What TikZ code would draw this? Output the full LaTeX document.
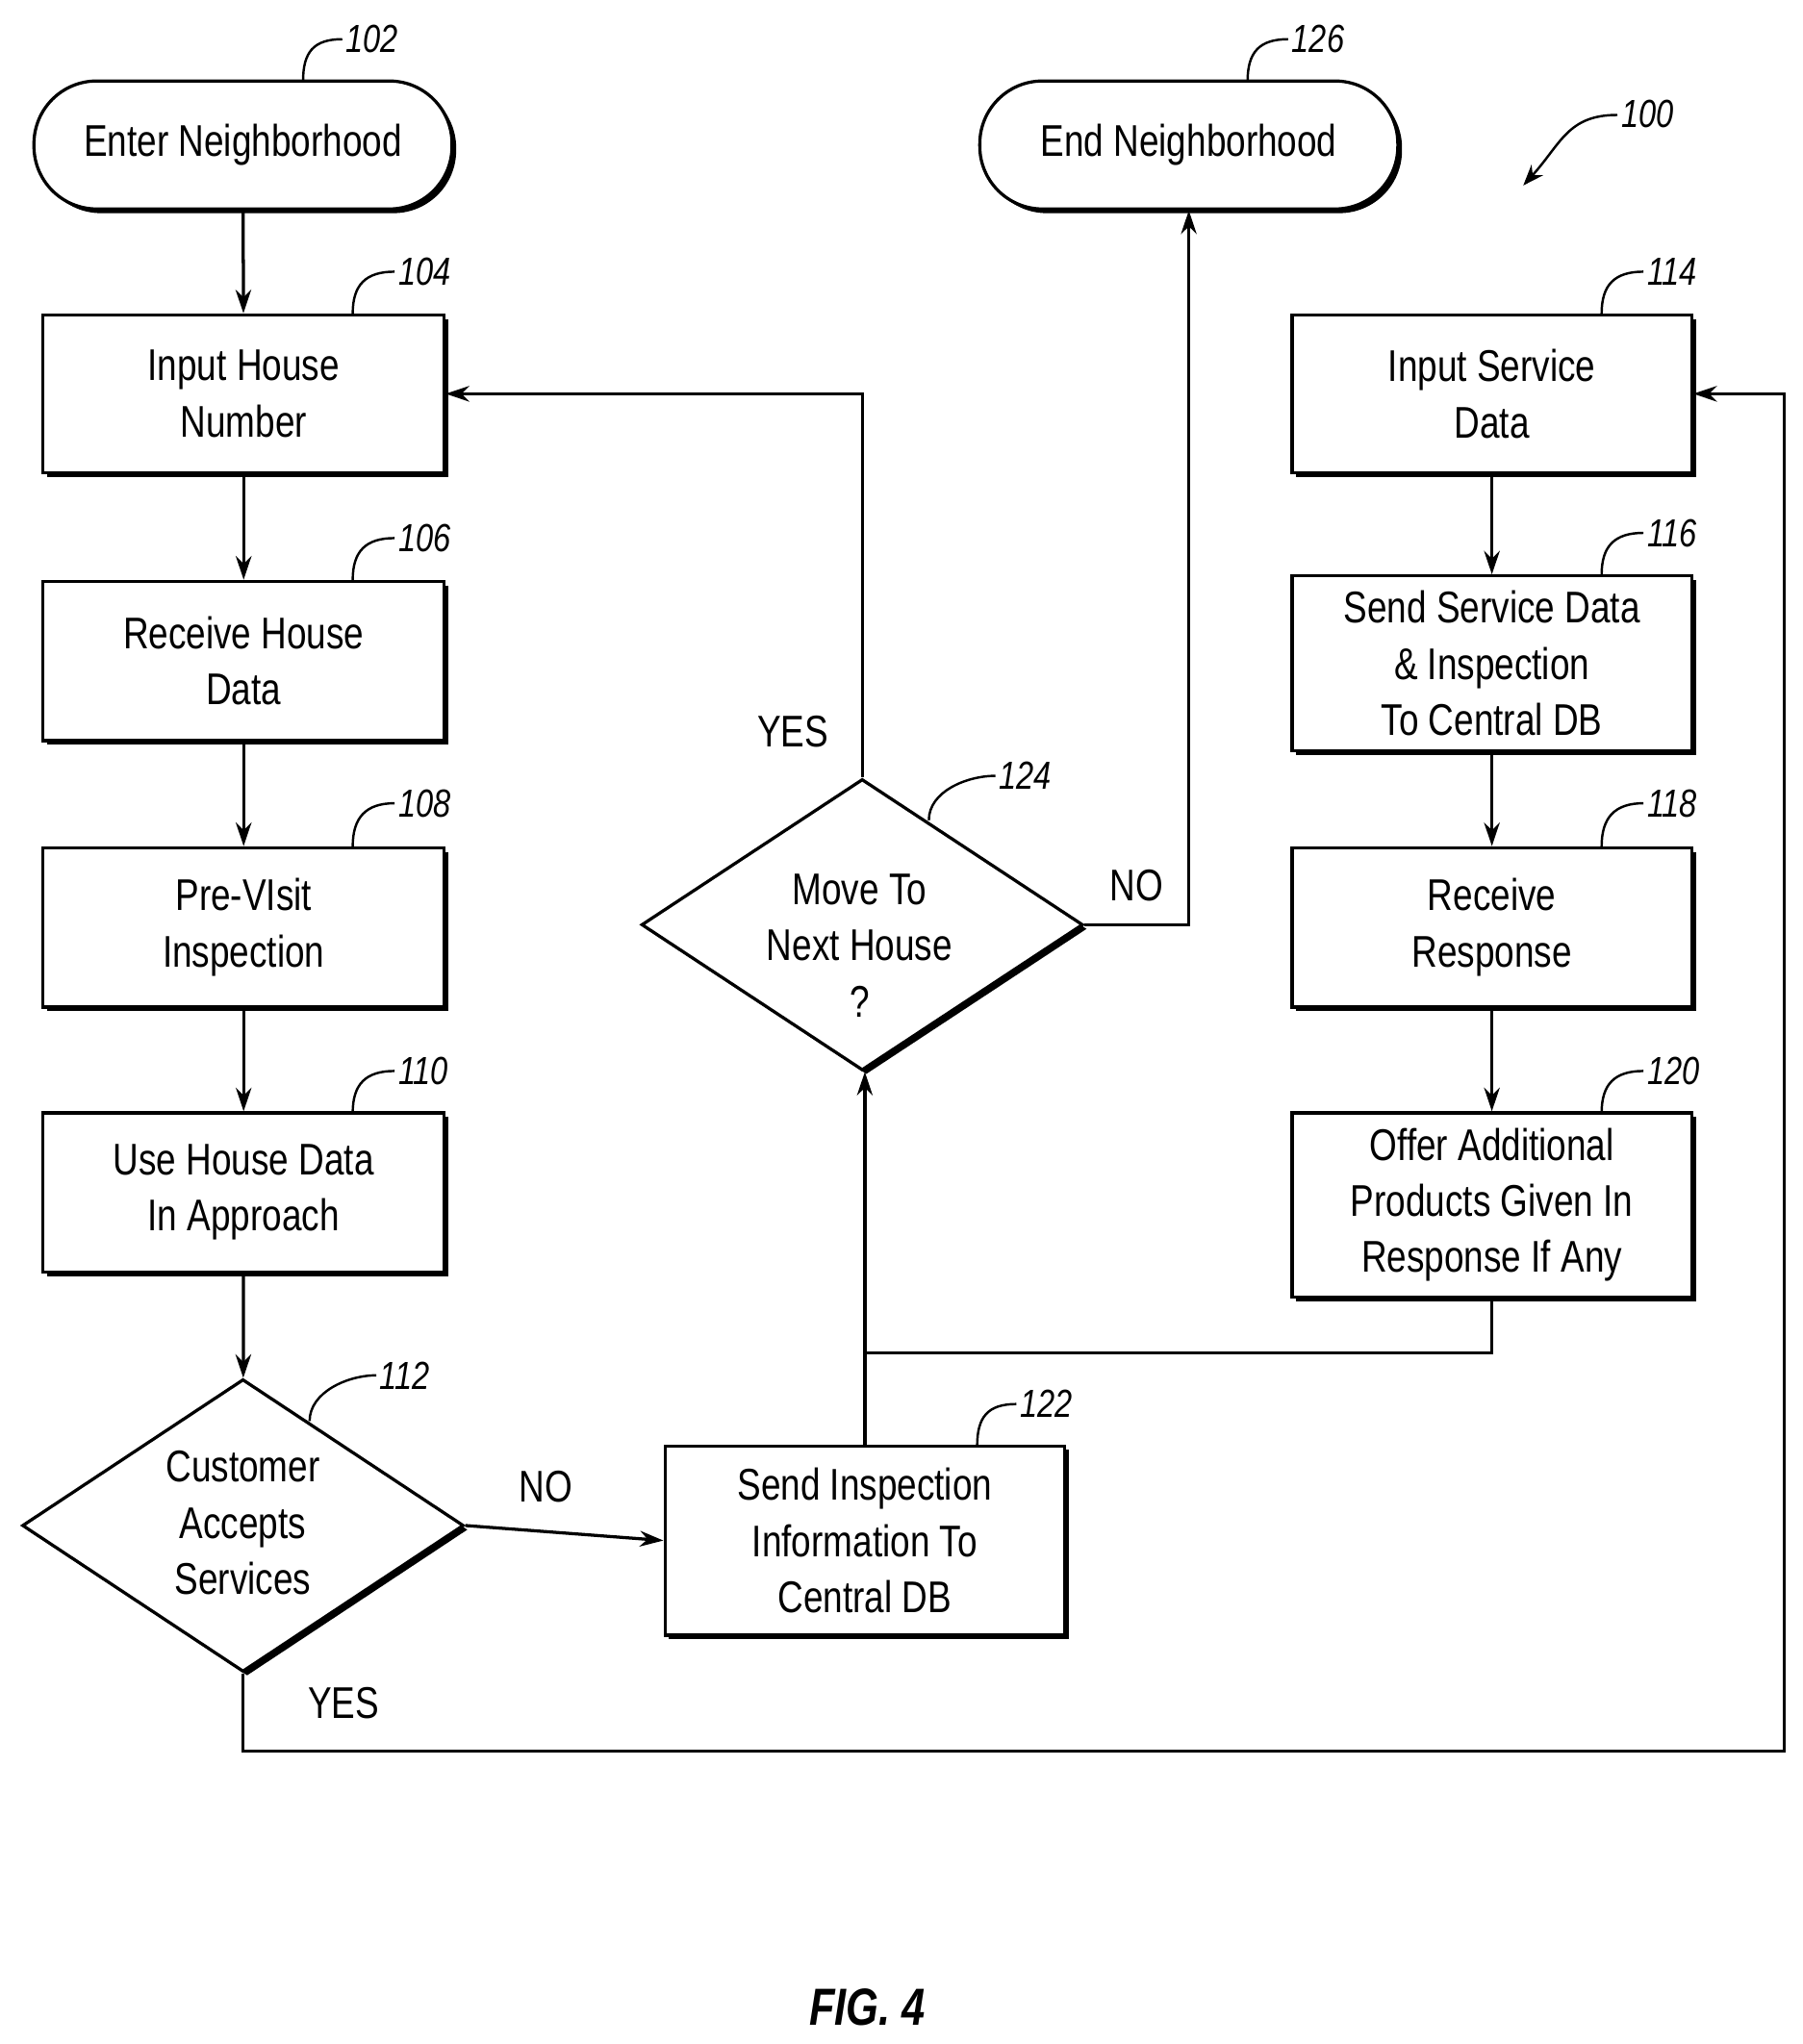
\documentclass[tikz,border=0pt]{standalone}
\usepackage{fontspec}
\setmainfont{Liberation Sans}[FakeStretch=0.8]
\usetikzlibrary{shapes.geometric,shadows,arrows.meta}
\begin{document}
\begin{tikzpicture}[x=0.5pt,y=-0.5pt,
  line width=1.2pt,
  txt/.style={font=\fontsize{17}{21.5}\selectfont,align=center},
  box/.style={draw,fill=white,rectangle,inner sep=0pt,txt,
     general shadow={fill=black,shadow xshift=1.6pt,shadow yshift=-1.6pt}},
  term/.style={box,rounded corners=24pt,minimum width=160pt,minimum height=49pt},
  dia/.style={draw,fill=white,diamond,inner sep=0pt,
     general shadow={fill=black,shadow xshift=1.6pt,shadow yshift=-1.6pt}},
  arr/.style={-{Stealth[length=9pt,width=6pt]}},
  ref/.style={font=\fontsize{15}{15}\selectfont\itshape,anchor=west,inner sep=1pt},
  lbl/.style={font=\fontsize{17}{17}\selectfont}]
\useasboundingbox (0,0) rectangle (1380,1565);
\newcommand{\refl}[5]{\draw[line width=0.9pt] (#1,#2) .. controls +(0,-22) and +(-22,0) .. (#3,#4) node[ref]{#5};}
% nodes
\node[term] (n102) at (186,111) {Enter Neighborhood};
\node[term] (n126) at (910,111) {End Neighborhood};
\node[box,minimum width=153.5pt,minimum height=60.5pt] (n104) at (186.5,301.5) {Input House\\Number};
\node[box,minimum width=153.5pt,minimum height=61pt] (n106) at (186.5,506) {Receive House\\Data};
\node[box,minimum width=153.5pt,minimum height=61pt] (n108) at (186.5,710) {Pre-VIsit\\Inspection};
\node[box,minimum width=153.5pt,minimum height=61pt] (n110) at (186.5,913) {Use House Data\\In Approach};
\node[box,minimum width=153pt,minimum height=60.5pt] (n114) at (1142,301.5) {Input Service\\Data};
\node[box,minimum width=153pt,minimum height=67pt] (n116) at (1142,508) {Send Service Data\\\& Inspection\\To Central DB};
\node[box,minimum width=153pt,minimum height=61pt] (n118) at (1142,710) {Receive\\Response};
\node[box,minimum width=153pt,minimum height=70.5pt] (n120) at (1142,922.5) {Offer Additional\\Products Given In\\Response If Any};
\node[box,minimum width=153pt,minimum height=72.5pt] (n122) at (662,1179.5) {Send Inspection\\Information To\\Central DB};
\node[dia,minimum width=169pt,minimum height=112pt] (n112) at (186,1168) {};
\node[txt] (t112) at (186,1166) {Customer\\Accepts\\Services};
\node[dia,minimum width=169pt,minimum height=111.5pt] (n124) at (660,708) {};
\node[txt] (t124) at (658,724) {Move To\\Next House\\?};
\coordinate (j) at (662,1036);
% connectors
\draw[arr] (n102) -- (n104);
\draw[arr] (n104) -- (n106);
\draw[arr] (n106) -- (n108);
\draw[arr] (n108) -- (n110);
\draw[arr] (n110) -- (n112);
\draw[arr] (n114) -- (n116);
\draw[arr] (n116) -- (n118);
\draw[arr] (n118) -- (n120);
\draw[arr] (n112.east) -- (n122.west);
\draw[arr] (n112.south) -- (186,1341) -- (1366,1341) |- (n114.east);
\draw[arr] (n122.north) -- (n122.north |- n124.south);
\draw (n120.south) |- (j);
\draw[arr] (n124.north) |- (n104.east);
\draw[arr] (n124.east) -| (n126.south);
% labels
\node[lbl] (l1) at (418,1138) {NO};
\node[lbl] (l2) at (263,1304) {YES};
\node[lbl] (l3) at (607,560) {YES};
\node[lbl] (l4) at (870,678) {NO};
% reference numerals
\refl{232}{62}{262}{30}{102}
\refl{270}{240}{302}{208}{104}
\refl{270}{444}{302}{412}{106}
\refl{270}{648}{302}{615}{108}
\refl{270}{852}{302}{820}{110}
\refl{237}{1088}{288}{1053}{112}
\refl{748}{1107}{778}{1075}{122}
\refl{711}{628}{762}{594}{124}
\refl{955}{62}{986}{30}{126}
\refl{1226}{240}{1258}{208}{114}
\refl{1226}{440}{1258}{408}{116}
\refl{1226}{648}{1258}{615}{118}
\refl{1226}{852}{1258}{820}{120}
\draw[line width=0.9pt,-{Stealth[length=8pt,width=6pt]}] (1238,88) .. controls (1200,88) and (1195,110) .. (1166,142);
\node[ref] (r100) at (1238,87) {100};
\node[font=\fontsize{20}{20}\selectfont\bfseries\itshape] (fig) at (664,1537) {FIG. 4};
\end{tikzpicture}
\end{document}
